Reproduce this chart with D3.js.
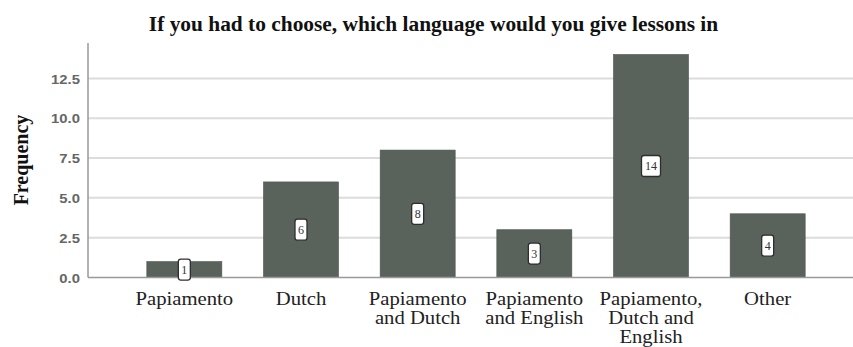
<!DOCTYPE html>
<html><head><meta charset="utf-8">
<script src="https://cdn.jsdelivr.net/npm/d3@7"></script>
<style>body{margin:0;background:#fff}</style>
</head><body>
<svg id="c" width="853" height="347"></svg>
<script>
const categories = [["Papiamento"],["Dutch"],["Papiamento","and Dutch"],["Papiamento","and English"],["Papiamento,","Dutch and","English"],["Other"]];
const values = [1, 6, 8, 3, 14, 4];
const yTicks = [0, 2.5, 5, 7.5, 10, 12.5];
const title = "If you had to choose, which language would you give lessons in";
const yTitle = "Frequency";

const svg = d3.select("#c");
const serif = "'Liberation Serif','Times New Roman',serif";
const sans = "'Liberation Sans',Arial,sans-serif";
const x0 = 88, yBase = 277.5, yTop = 43;
const x = d3.scaleBand().domain(d3.range(values.length)).range([126, 826]).paddingInner(0.357).paddingOuter(0.1785);
const y = d3.scaleLinear().domain([0, 14]).range([yBase, 54.5]);

// gridlines
svg.append("g").selectAll("line").data(yTicks.filter(d=>d>0)).join("line")
  .attr("x1", x0).attr("x2", 853).attr("y1", d=>y(d)).attr("y2", d=>y(d))
  .attr("stroke", "#dcdcdc").attr("stroke-width", 2);

// y axis
const yAxis = d3.axisLeft(y).tickValues(yTicks).tickFormat(d3.format(".1f")).tickSize(0).tickPadding(8);
const gy = svg.append("g").attr("transform", `translate(${x0},0)`).call(yAxis);
gy.select(".domain").remove();
gy.selectAll(".tick text").attr("font-family", sans).attr("font-size", 13.5).attr("font-weight", "bold").attr("fill", "#666")
  .attr("x", 0).attr("dy", "0.35em")
  .attr("transform", "translate(-8,0) scale(1.1,1)");
svg.append("line").attr("x1", x0).attr("x2", x0).attr("y1", yTop).attr("y2", yBase).attr("stroke", "#999").attr("stroke-width", 1.5);

// bars
svg.append("g").selectAll("rect").data(values).join("rect")
  .attr("x", (d,i)=>x(i)).attr("width", x.bandwidth())
  .attr("y", d=>y(d)).attr("height", d=>yBase - y(d))
  .attr("fill", "#5a625c").attr("stroke", "#4c534e").attr("stroke-width", 0.6);

// x axis line
svg.append("line").attr("x1", x0).attr("x2", 853).attr("y1", yBase).attr("y2", yBase).attr("stroke", "#999").attr("stroke-width", 1.5);

// value labels
const lab = svg.append("g").selectAll("g").data(values).join("g")
  .attr("transform", (d,i)=>`translate(${x(i)+x.bandwidth()/2},${(y(d)+yBase)/2})`);
lab.append("rect")
  .attr("x", d=>String(d).length>1 ? -9.5 : -6).attr("width", d=>String(d).length>1 ? 19 : 12)
  .attr("y", -10.5).attr("height", 21).attr("rx", 2.5)
  .attr("fill", "#fff").attr("stroke", "#2e2e2e").attr("stroke-width", 1.3);
lab.append("text").attr("text-anchor", "middle").attr("dy", "0.35em")
  .attr("font-family", serif).attr("font-size", 12).attr("fill", "#333").text(d=>d);

// category labels
const cl = svg.append("g").selectAll("text").data(categories).join("text")
  .attr("text-anchor", "middle").attr("font-family", serif).attr("font-size", 18).attr("fill", "#222")
  .attr("transform", (d,i)=>`translate(${x(i)+x.bandwidth()/2},305) scale(1.15,1)`);
cl.selectAll("tspan").data(d=>d).join("tspan").attr("x", 0).attr("dy", (d,j)=>j===0?0:19).text(d=>d);

// title
svg.append("text").attr("text-anchor", "middle").attr("font-family", serif).attr("font-weight", "bold")
  .attr("font-size", 20).attr("fill", "#111")
  .attr("transform", "translate(433.5,31) scale(1.07,1)").text(title);

// y title
svg.append("text").attr("text-anchor", "middle").attr("font-family", serif).attr("font-weight", "bold")
  .attr("font-size", 20).attr("fill", "#111")
  .attr("transform", "translate(28,160) rotate(-90)").text(yTitle);
</script>
</body></html>
